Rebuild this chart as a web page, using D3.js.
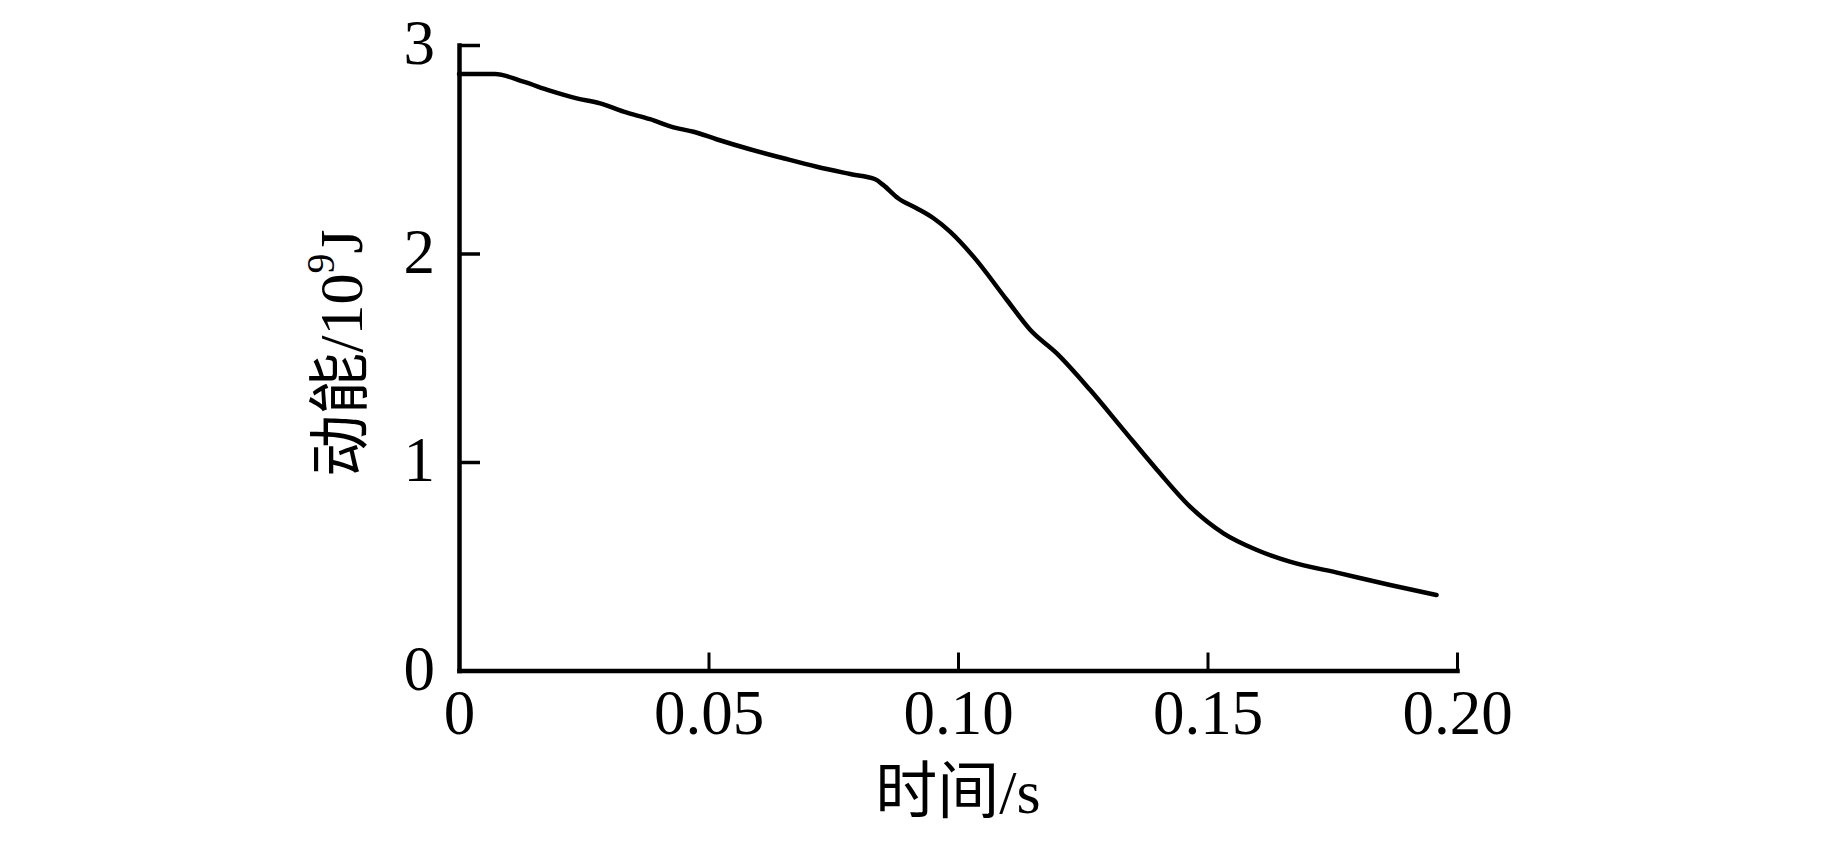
<!DOCTYPE html>
<html>
<head>
<meta charset="utf-8">
<script src="https://cdn.jsdelivr.net/npm/d3@7"></script>
<style>
  html, body { margin: 0; padding: 0; background: #fff; }
  svg { display: block; }
  text { fill: #000; }
</style>
</head>
<body>
<svg id="chart" width="1843" height="846"></svg>
<script>
// ---- data ----
const timeS = [0, 0.0072, 0.0129, 0.0182, 0.0236, 0.0283, 0.033, 0.0383, 0.043, 0.047, 0.0516,
  0.0583, 0.065, 0.0717, 0.0784, 0.0834, 0.085, 0.088, 0.0917, 0.0951, 0.0984, 0.1031, 0.1098,
  0.1145, 0.1198, 0.1265, 0.1332, 0.1399, 0.1465, 0.1532, 0.1599, 0.1665, 0.1766, 0.1866, 0.1959];
const kineticE = [2.861, 2.861, 2.824, 2.781, 2.744, 2.72, 2.68, 2.644, 2.605, 2.584, 2.548,
  2.50, 2.457, 2.416, 2.381, 2.356, 2.329, 2.265, 2.217, 2.169, 2.105, 1.985, 1.777,
  1.633, 1.521, 1.345, 1.153, 0.962, 0.786, 0.658, 0.578, 0.522, 0.466, 0.41, 0.362];
const xTicks = [0, 0.05, 0.10, 0.15, 0.20];
const xTickLabels = ["0", "0.05", "0.10", "0.15", "0.20"];
const yTicks = [0, 1, 2, 3];
const yTickLabels = ["0", "1", "2", "3"];
const xLabel = "时间/s";
const yLabelMain = "动能/10";
const yLabelSup = "9";
const yLabelEnd = "J";

(function () {
  const svg = d3.select("#chart");
  const pL = 459, pR = 1457, pT = 45, pB = 670.5;
  const serif = "'Liberation Serif', 'Times New Roman', 'Noto Sans CJK SC', serif";

  const x = d3.scaleLinear().domain([0, 0.2]).range([pL, pR]);
  const y = d3.scaleLinear().domain([0, 3]).range([pB, pT]);

  // x axis
  const xAxis = d3.axisBottom(x)
    .tickValues(xTicks)
    .tickFormat((d, i) => xTickLabels[i])
    .tickSizeInner(-18).tickSizeOuter(0).tickPadding(19);
  const gx = svg.append("g").attr("transform", `translate(0,${pB})`).call(xAxis);
  gx.select(".domain").attr("stroke", "#000").attr("stroke-width", 4.5)
    .attr("stroke-linecap", "square");
  gx.selectAll(".tick line").attr("stroke", "#000").attr("stroke-width", 3);
  gx.selectAll(".tick text").attr("font-family", serif).attr("font-size", 63).attr("fill", "#000");

  // y axis
  const yAxis = d3.axisLeft(y)
    .tickValues(yTicks)
    .tickFormat((d, i) => yTickLabels[i])
    .tickSizeInner(-21).tickSizeOuter(0).tickPadding(24);
  const gy = svg.append("g").attr("transform", `translate(${pL},0)`).call(yAxis);
  gy.select(".domain").attr("stroke", "#000").attr("stroke-width", 4.5)
    .attr("stroke-linecap", "square");
  gy.selectAll(".tick line").attr("stroke", "#000").attr("stroke-width", 3.5);
  gy.selectAll(".tick text").attr("font-family", serif).attr("font-size", 63).attr("fill", "#000")
    .attr("dy", "0.3em");

  // data line
  const pts = timeS.map((t, i) => [t, kineticE[i]]);
  const line = d3.line()
    .x(d => x(d[0]))
    .y(d => y(d[1]))
    .curve(d3.curveMonotoneX);
  svg.append("path")
    .datum(pts)
    .attr("d", line)
    .attr("fill", "none")
    .attr("stroke", "#000")
    .attr("stroke-width", 4.5)
    .attr("stroke-linejoin", "round")
    .attr("stroke-linecap", "round");

  // axis titles
  svg.append("text")
    .attr("x", (pL + pR) / 2)
    .attr("y", 813)
    .attr("text-anchor", "middle")
    .attr("font-family", serif)
    .attr("font-size", 62)
    .text(xLabel);

  const yt = svg.append("text")
    .attr("transform", `translate(362,353) rotate(-90)`)
    .attr("text-anchor", "middle")
    .attr("font-family", serif)
    .attr("font-size", 62);
  yt.append("tspan").text(yLabelMain);
  yt.append("tspan").attr("font-size", 40).attr("dy", "-0.7em").text(yLabelSup);
  yt.append("tspan").attr("dy", "0.45em").text(yLabelEnd);
})();
</script>
</body>
</html>
